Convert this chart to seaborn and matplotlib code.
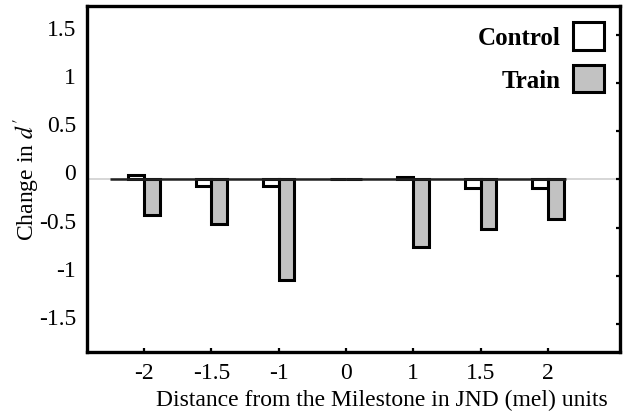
import matplotlib
matplotlib.use("Agg")
import matplotlib.pyplot as plt
from matplotlib.patches import Patch
import pandas as pd
import seaborn as sns

# ── Data ─────────────────────────────────────────────────────────────────────
distances = ["-2", "-1.5", "-1", "0", "1", "1.5", "2"]
control = [0.05, -0.07, -0.07, 0.0, 0.025, -0.09, -0.09]
train = [-0.37, -0.46, -1.045, 0.0, -0.70, -0.51, -0.41]
groups = ["Control", "Train"]
ytick_vals = [1.5, 1, 0.5, 0, -0.5, -1, -1.5]
ytick_labels = ["1.5", "1", "0.5", "0", "-0.5", "-1", "-1.5"]

COLORS = {"Control": "white", "Train": "#c2c2c2"}

df = pd.DataFrame({
    "distance": distances * 2,
    "change": control + train,
    "group": ["Control"] * len(distances) + ["Train"] * len(distances),
})

# ── Style ────────────────────────────────────────────────────────────────────
sns.set_theme(style="white")
plt.rcParams["font.family"] = ["Liberation Serif", "DejaVu Serif"]
plt.rcParams["mathtext.fontset"] = "stix"
plt.rcParams["axes.unicode_minus"] = False
plt.rcParams["text.color"] = "black"
plt.rcParams["axes.labelcolor"] = "black"

fig = plt.figure(figsize=(6.28, 4.14), dpi=100)
ax = fig.add_axes([87 / 628, 1 - 353 / 414, 533 / 628, 346 / 414])

# light reference line across the full width, dark baseline under the bars
ax.axhline(0, color="#cfcfcf", lw=1.2, zorder=0)
ax.hlines(0, -0.5, 6.27, color="#222222", lw=1.8, zorder=3)

sns.barplot(data=df, x="distance", y="change", hue="group",
            order=distances, hue_order=groups, palette=COLORS,
            edgecolor="black", linewidth=2.2, width=0.47,
            legend=False, ax=ax, zorder=2)

ax.set_xlim(-0.847, 7.07)
ax.set_ylim(-1.79, 1.80)
ax.set_yticks(ytick_vals)
ax.set_yticklabels(ytick_labels, fontsize=17)
for lbl in ax.get_yticklabels():
    lbl.set_verticalalignment("baseline")
ax.set_xticks(range(len(distances)))
ax.set_xticklabels(distances, fontsize=17)

ax.tick_params(axis="x", direction="in", length=3, width=1.6, pad=7,
               bottom=True, colors="black")
ax.tick_params(axis="y", direction="in", length=3, width=1.6, pad=8,
               left=False, right=True, colors="black")

for sp in ax.spines.values():
    sp.set_visible(True)
    sp.set_color("black")
    sp.set_linewidth(2.4)

ax.set_xlabel("Distance from the Milestone in JND (mel) units", fontsize=17)
ax.xaxis.set_label_coords(0.553, -0.108)
ax.set_ylabel("Change in $d'$", fontsize=17)
ax.yaxis.set_label_coords(-0.085, 0.5)

handles = [Patch(facecolor=COLORS[g], edgecolor="black", linewidth=2.2) for g in groups]
ax.legend(handles, groups, loc="upper right", frameon=False, markerfirst=False,
          prop={"weight": "bold", "size": 18}, handlelength=1.24,
          handleheight=1.3, labelspacing=0.6, handletextpad=0.5,
          borderpad=0.2, borderaxespad=0.45)

plt.savefig("out.png", dpi=100)
